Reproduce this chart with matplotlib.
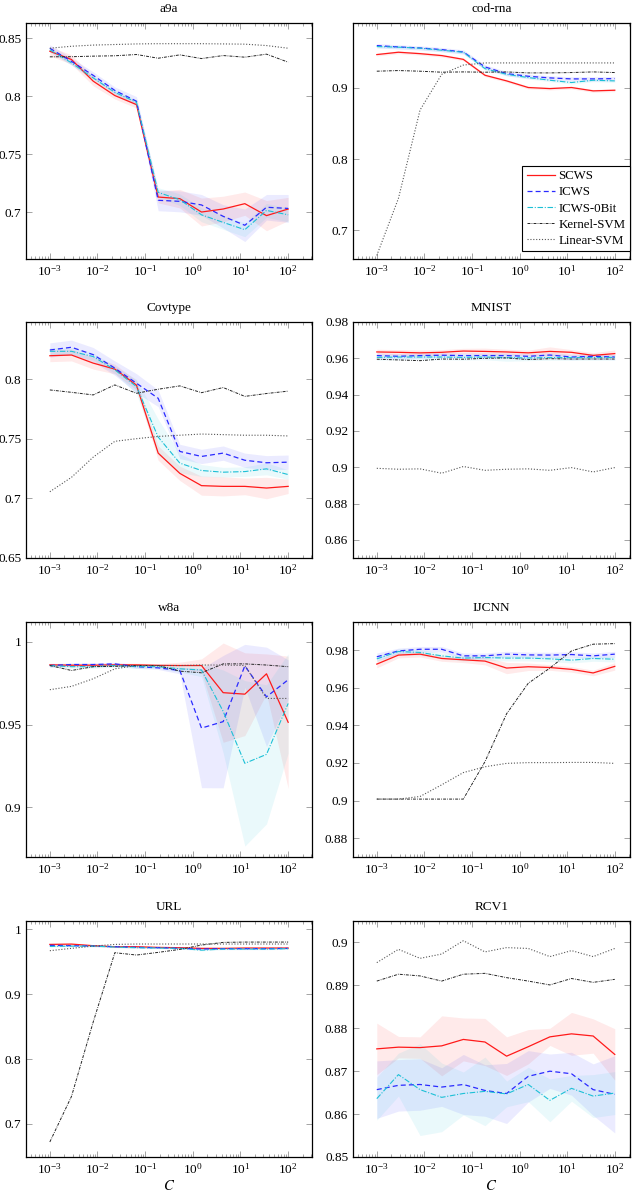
import numpy as np
import matplotlib
matplotlib.use("Agg")
import matplotlib.pyplot as plt
from matplotlib.ticker import FormatStrFormatter, LogLocator

plt.rcParams['font.family'] = ['Liberation Serif', 'DejaVu Serif']
plt.rcParams['mathtext.fontset'] = 'stix'

# regularisation parameter C (12 points, 1e-3 .. 1e2)
C = [1e-3, 2.848e-3, 8.111e-3, 2.310e-2, 6.579e-2, 0.1874, 0.5337,
     1.520, 4.329, 12.33, 35.11, 100.0]

methods = ['SCWS', 'ICWS', 'ICWS-0Bit', 'Kernel-SVM', 'Linear-SVM']

# ---- a9a
a9a_scws = [0.8387, 0.8316, 0.8130, 0.8006, 0.7928, 0.7133, 0.7119, 0.7004, 0.7030, 0.7076, 0.6973, 0.7030]
a9a_scws_sd = [0.004, 0.004, 0.004, 0.003, 0.003, 0.005, 0.008, 0.012, 0.011, 0.010, 0.013, 0.010]
a9a_icws = [0.8413, 0.8300, 0.8180, 0.8050, 0.7957, 0.7105, 0.7096, 0.7065, 0.6967, 0.6890, 0.7045, 0.7035]
a9a_icws_sd = [0.003, 0.003, 0.003, 0.003, 0.004, 0.009, 0.009, 0.009, 0.010, 0.014, 0.011, 0.012]
a9a_bit = [0.8400, 0.8287, 0.8158, 0.8034, 0.7948, 0.7173, 0.7110, 0.6980, 0.6915, 0.6852, 0.7018, 0.6980]
a9a_bit_sd = [0.002, 0.002, 0.002, 0.002, 0.002, 0.004, 0.005, 0.006, 0.006, 0.006, 0.006, 0.006]
a9a_kernel = [0.8339, 0.8340, 0.8345, 0.8348, 0.8359, 0.8327, 0.8356, 0.8324, 0.8350, 0.8336, 0.8362, 0.8293]
a9a_linear = [0.8413, 0.8430, 0.8440, 0.8445, 0.8450, 0.8452, 0.8452, 0.8452, 0.8450, 0.8448, 0.8436, 0.8413]

# ---- cod-rna
cod_scws = [0.9467, 0.9500, 0.9480, 0.9453, 0.9400, 0.9177, 0.9098, 0.9005, 0.8990, 0.9005, 0.8958, 0.8967]
cod_scws_sd = [0.002, 0.002, 0.002, 0.002, 0.002, 0.002, 0.002, 0.002, 0.002, 0.002, 0.002, 0.002]
cod_icws = [0.9593, 0.9574, 0.9560, 0.9537, 0.9504, 0.9294, 0.9200, 0.9163, 0.9140, 0.9126, 0.9126, 0.9130]
cod_icws_sd = [0.003, 0.003, 0.003, 0.003, 0.003, 0.003, 0.003, 0.003, 0.003, 0.003, 0.003, 0.003]
cod_bit = [0.9580, 0.9571, 0.9557, 0.9528, 0.9500, 0.9270, 0.9190, 0.9145, 0.9107, 0.9075, 0.9107, 0.9098]
cod_bit_sd = [0.002, 0.002, 0.002, 0.002, 0.002, 0.002, 0.002, 0.002, 0.002, 0.002, 0.002, 0.002]
cod_kernel = [0.9234, 0.9243, 0.9234, 0.9220, 0.9224, 0.9220, 0.9224, 0.9210, 0.9210, 0.9215, 0.9224, 0.9215]
cod_linear = [0.665, 0.745, 0.869, 0.919, 0.932, 0.935, 0.935, 0.935, 0.935, 0.935, 0.935, 0.935]

# ---- Covtype
cov_scws = [0.8197, 0.8203, 0.8135, 0.8085, 0.7950, 0.7380, 0.7210, 0.7107, 0.7101, 0.7101, 0.7087, 0.7101]
cov_scws_sd = [0.005, 0.005, 0.005, 0.004, 0.004, 0.006, 0.006, 0.008, 0.008, 0.007, 0.009, 0.006]
cov_icws = [0.8245, 0.8268, 0.8206, 0.8093, 0.7966, 0.7840, 0.7394, 0.7352, 0.7380, 0.7320, 0.7299, 0.7304]
cov_icws_sd = [0.006, 0.006, 0.006, 0.006, 0.008, 0.007, 0.006, 0.006, 0.006, 0.006, 0.006, 0.006]
cov_bit = [0.8234, 0.8234, 0.8190, 0.8079, 0.7938, 0.7515, 0.7296, 0.7234, 0.7220, 0.7225, 0.7248, 0.7200]
cov_bit_sd = [0.003, 0.003, 0.003, 0.003, 0.006, 0.015, 0.008, 0.005, 0.004, 0.004, 0.005, 0.004]
cov_kernel = [0.7910, 0.7890, 0.7868, 0.7952, 0.7882, 0.7916, 0.7944, 0.7887, 0.7930, 0.7856, 0.7880, 0.7900]
cov_linear = [0.7056, 0.7177, 0.7346, 0.7479, 0.7501, 0.7520, 0.7530, 0.7540, 0.7535, 0.7530, 0.7530, 0.7524]

# ---- MNIST
mn_scws = [0.9635, 0.9633, 0.9630, 0.9633, 0.9640, 0.9638, 0.9635, 0.9630, 0.9638, 0.9633, 0.9616, 0.9626]
mn_scws_sd = [0.0015, 0.0015, 0.0015, 0.0015, 0.0015, 0.0018, 0.0015, 0.0015, 0.0025, 0.0015, 0.0015, 0.002]
mn_icws = [0.9615, 0.9611, 0.9615, 0.9617, 0.9615, 0.9615, 0.9615, 0.9611, 0.9618, 0.9607, 0.9611, 0.9607]
mn_icws_sd = [0.0015, 0.0015, 0.0015, 0.0015, 0.0015, 0.0015, 0.0015, 0.0015, 0.0015, 0.0015, 0.0015, 0.0015]
mn_bit = [0.9605, 0.9607, 0.9607, 0.9607, 0.9605, 0.9607, 0.9604, 0.9602, 0.9604, 0.9604, 0.9604, 0.9605]
mn_bit_sd = [0.0015, 0.0015, 0.0015, 0.0015, 0.0015, 0.0015, 0.002, 0.0015, 0.0015, 0.0015, 0.0015, 0.0015]
mn_kernel = [0.9595, 0.9591, 0.9587, 0.9596, 0.9595, 0.9600, 0.9602, 0.9593, 0.9598, 0.9596, 0.9596, 0.9596]
mn_linear = [0.8994, 0.8989, 0.8991, 0.8967, 0.9004, 0.8983, 0.8989, 0.8991, 0.8983, 0.8998, 0.8974, 0.8998]

# ---- w8a
w8_scws = [0.9861, 0.9859, 0.9859, 0.9861, 0.9861, 0.9858, 0.9857, 0.9857, 0.9693, 0.9684, 0.9807, 0.9514]
w8_scws_sd = [0.001, 0.001, 0.001, 0.001, 0.001, 0.001, 0.002, 0.004, 0.030, 0.025, 0.012, 0.040]
w8_icws = [0.9857, 0.9863, 0.9863, 0.9867, 0.9850, 0.9843, 0.9827, 0.9479, 0.9518, 0.9855, 0.9668, 0.9771]
w8_icws_sd = [0.001, 0.001, 0.001, 0.001, 0.001, 0.001, 0.002, 0.036, 0.040, 0.013, 0.030, 0.012]
w8_bit = [0.9857, 0.9850, 0.9850, 0.9857, 0.9850, 0.9850, 0.9837, 0.9830, 0.9580, 0.9266, 0.9320, 0.9628]
w8_bit_sd = [0.001, 0.001, 0.001, 0.001, 0.001, 0.001, 0.002, 0.004, 0.025, 0.050, 0.042, 0.030]
w8_kernel = [0.9857, 0.9827, 0.9850, 0.9852, 0.9857, 0.9857, 0.9823, 0.9813, 0.9867, 0.9867, 0.9860, 0.9850]
w8_linear = [0.9711, 0.9731, 0.9777, 0.9837, 0.9857, 0.9857, 0.9857, 0.9860, 0.9860, 0.9857, 0.9658, 0.9658]

# ---- IJCNN
ij_scws = [0.9726, 0.9774, 0.9779, 0.9756, 0.9749, 0.9742, 0.9705, 0.9712, 0.9708, 0.9698, 0.9679, 0.9714]
ij_scws_sd = [0.002, 0.0015, 0.0015, 0.0015, 0.0015, 0.002, 0.003, 0.002, 0.0015, 0.0015, 0.0015, 0.002]
ij_icws = [0.9765, 0.9796, 0.9805, 0.9805, 0.9770, 0.9770, 0.9779, 0.9775, 0.9774, 0.9777, 0.9770, 0.9779]
ij_icws_sd = [0.002, 0.0015, 0.0015, 0.0015, 0.0015, 0.0015, 0.0015, 0.0015, 0.0015, 0.0015, 0.0015, 0.0015]
ij_bit = [0.9754, 0.9793, 0.9788, 0.9770, 0.9758, 0.9761, 0.9758, 0.9758, 0.9754, 0.9747, 0.9756, 0.9752]
ij_bit_sd = [0.0015, 0.0015, 0.0015, 0.0015, 0.0015, 0.0015, 0.0015, 0.0015, 0.0015, 0.0015, 0.0015, 0.0015]
ij_kernel = [0.9008, 0.9008, 0.9008, 0.9008, 0.9008, 0.9207, 0.9462, 0.9624, 0.9705, 0.9796, 0.9832, 0.9835]
ij_linear = [0.9008, 0.9008, 0.9022, 0.9084, 0.9149, 0.9180, 0.9198, 0.9202, 0.9202, 0.9203, 0.9203, 0.9198]

# ---- URL
url_scws = [0.9769, 0.9774, 0.9749, 0.9733, 0.9733, 0.9723, 0.9718, 0.9708, 0.9708, 0.9713, 0.9713, 0.9713]
url_scws_sd = [0.001] * 12
url_icws = [0.9754, 0.9749, 0.9744, 0.9733, 0.9723, 0.9718, 0.9708, 0.9697, 0.9703, 0.9703, 0.9703, 0.9708]
url_icws_sd = [0.001] * 12
url_bit = [0.9738, 0.9743, 0.9743, 0.9728, 0.9718, 0.9713, 0.9708, 0.9680, 0.9697, 0.9697, 0.9697, 0.9703]
url_bit_sd = [0.001] * 12
url_kernel = [0.6722, 0.7425, 0.8570, 0.9641, 0.9605, 0.9646, 0.9692, 0.9759, 0.9800, 0.9805, 0.9805, 0.9805]
url_linear = [0.9672, 0.9708, 0.9743, 0.9769, 0.9775, 0.9775, 0.9775, 0.9775, 0.9775, 0.9775, 0.9775, 0.9775]

# ---- RCV1
rc_scws = [0.8752, 0.8756, 0.8755, 0.8759, 0.8774, 0.8768, 0.8735, 0.8757, 0.8780, 0.8787, 0.8782, 0.8739]
rc_scws_sd = [0.006, 0.0025, 0.0025, 0.007, 0.005, 0.0055, 0.0045, 0.004, 0.002, 0.005, 0.004, 0.006]
rc_icws = [0.8657, 0.8667, 0.8669, 0.8663, 0.8669, 0.8655, 0.8648, 0.8688, 0.8700, 0.8694, 0.8657, 0.8646]
rc_icws_sd = [0.0067, 0.006, 0.006, 0.0045, 0.007, 0.006, 0.007, 0.006, 0.004, 0.005, 0.006, 0.009]
rc_bit = [0.8636, 0.8692, 0.8657, 0.8639, 0.8648, 0.8653, 0.8647, 0.8669, 0.8632, 0.8660, 0.8642, 0.8649]
rc_bit_sd = [0.005, 0.005, 0.0107, 0.008, 0.005, 0.008, 0.003, 0.004, 0.005, 0.003, 0.005, 0.005]
rc_kernel = [0.8910, 0.8926, 0.8922, 0.8910, 0.8926, 0.8928, 0.8918, 0.8910, 0.8901, 0.8916, 0.8907, 0.8914]
rc_linear = [0.8953, 0.8984, 0.8963, 0.8973, 0.9004, 0.8978, 0.8988, 0.8986, 0.8967, 0.8981, 0.8967, 0.8986]

# (title, ylim, yticks, series)
panels = [
    ('a9a', (0.66, 0.863), [0.7, 0.75, 0.8, 0.85],
     (a9a_scws, a9a_scws_sd, a9a_icws, a9a_icws_sd, a9a_bit, a9a_bit_sd, a9a_kernel, a9a_linear)),
    ('cod-rna', (0.66, 0.991), [0.7, 0.8, 0.9],
     (cod_scws, cod_scws_sd, cod_icws, cod_icws_sd, cod_bit, cod_bit_sd, cod_kernel, cod_linear)),
    ('Covtype', (0.65, 0.848), [0.65, 0.7, 0.75, 0.8],
     (cov_scws, cov_scws_sd, cov_icws, cov_icws_sd, cov_bit, cov_bit_sd, cov_kernel, cov_linear)),
    ('MNIST', (0.85, 0.98), [0.86, 0.88, 0.9, 0.92, 0.94, 0.96, 0.98],
     (mn_scws, mn_scws_sd, mn_icws, mn_icws_sd, mn_bit, mn_bit_sd, mn_kernel, mn_linear)),
    ('w8a', (0.87, 1.012), [0.9, 0.95, 1.0],
     (w8_scws, w8_scws_sd, w8_icws, w8_icws_sd, w8_bit, w8_bit_sd, w8_kernel, w8_linear)),
    ('IJCNN', (0.87, 0.995), [0.88, 0.9, 0.92, 0.94, 0.96, 0.98],
     (ij_scws, ij_scws_sd, ij_icws, ij_icws_sd, ij_bit, ij_bit_sd, ij_kernel, ij_linear)),
    ('URL', (0.649, 1.013), [0.7, 0.8, 0.9, 1.0],
     (url_scws, url_scws_sd, url_icws, url_icws_sd, url_bit, url_bit_sd, url_kernel, url_linear)),
    ('RCV1', (0.85, 0.905), [0.85, 0.86, 0.87, 0.88, 0.89, 0.9],
     (rc_scws, rc_scws_sd, rc_icws, rc_icws_sd, rc_bit, rc_bit_sd, rc_kernel, rc_linear)),
]

RED = '#ff1a1a'
BLUE = '#2a2aff'
CYAN = '#1cc0d6'

W, H = 640, 1193
cols = [(26, 312), (353, 630)]
rows = [(23, 259), (322, 558), (622, 857), (921, 1157)]
xlims = [(10 ** -3.5, 10 ** 2.5), (10 ** -3.5, 10 ** 2.32)]

fig = plt.figure(figsize=(W / 100, H / 100), dpi=100)

def place(col, row):
    x0, x1 = cols[col]
    yt, yb = rows[row]
    return [x0 / W, 1 - yb / H, (x1 - x0) / W, (yb - yt) / H]

for i, (title, ylim, yticks, s) in enumerate(panels):
    col, row = i % 2, i // 2
    ax = fig.add_axes(place(col, row))
    scws, scws_sd, icws, icws_sd, bit, bit_sd, kernel, linear = [np.array(v) for v in s]

    for m, sd, c in [(scws, scws_sd, RED), (icws, icws_sd, BLUE), (bit, bit_sd, CYAN)]:
        ax.fill_between(C, m - sd, m + sd, color=c, alpha=0.09, lw=0)

    ax.plot(C, scws, color=RED, lw=0.9, label='SCWS')
    ax.plot(C, icws, color=BLUE, lw=0.9, ls=(0, (4, 2.5)), label='ICWS')
    ax.plot(C, bit, color=CYAN, lw=0.8, ls=(0, (5, 1.5, 1, 1.5)), label='ICWS-0Bit')
    ax.plot(C, kernel, color='#222222', lw=0.7, ls=(0, (3, 1.2, 0.8, 1.2)), label='Kernel-SVM')
    ax.plot(C, linear, color='#555555', lw=0.8, ls=(0, (1, 1.6)), label='Linear-SVM')

    ax.set_xscale('log')
    ax.set_xlim(*xlims[col])
    ax.set_ylim(*ylim)
    ax.set_xticks([1e-3, 1e-2, 1e-1, 1e0, 1e1, 1e2])
    ax.xaxis.set_minor_locator(LogLocator(base=10, subs=np.arange(2, 10), numticks=20))
    ax.set_yticks(yticks)
    ax.yaxis.set_major_formatter(FormatStrFormatter('%g'))
    ax.tick_params(which='both', direction='in', top=True, right=True,
                   color='0.5', width=0.5, labelsize=9.5, pad=3.5)
    ax.tick_params(which='major', length=4)
    ax.tick_params(which='minor', length=2)
    for sp in ax.spines.values():
        sp.set_linewidth(0.9)
    ax.set_title(title, fontsize=9.5, pad=8)
    if row == 3:
        ax.set_xlabel('$C$', fontsize=10.5, labelpad=2)
    if title == 'cod-rna':
        leg = ax.legend(loc='lower right', bbox_to_anchor=(1.0, 0.032), fontsize=9.3,
                        frameon=True, fancybox=False, framealpha=1, edgecolor='black',
                        handlelength=2.2, handletextpad=0.25, labelspacing=0.32,
                        borderpad=0.35, borderaxespad=0)
        leg.get_frame().set_linewidth(0.8)

fig.savefig('out.png', dpi=100)
